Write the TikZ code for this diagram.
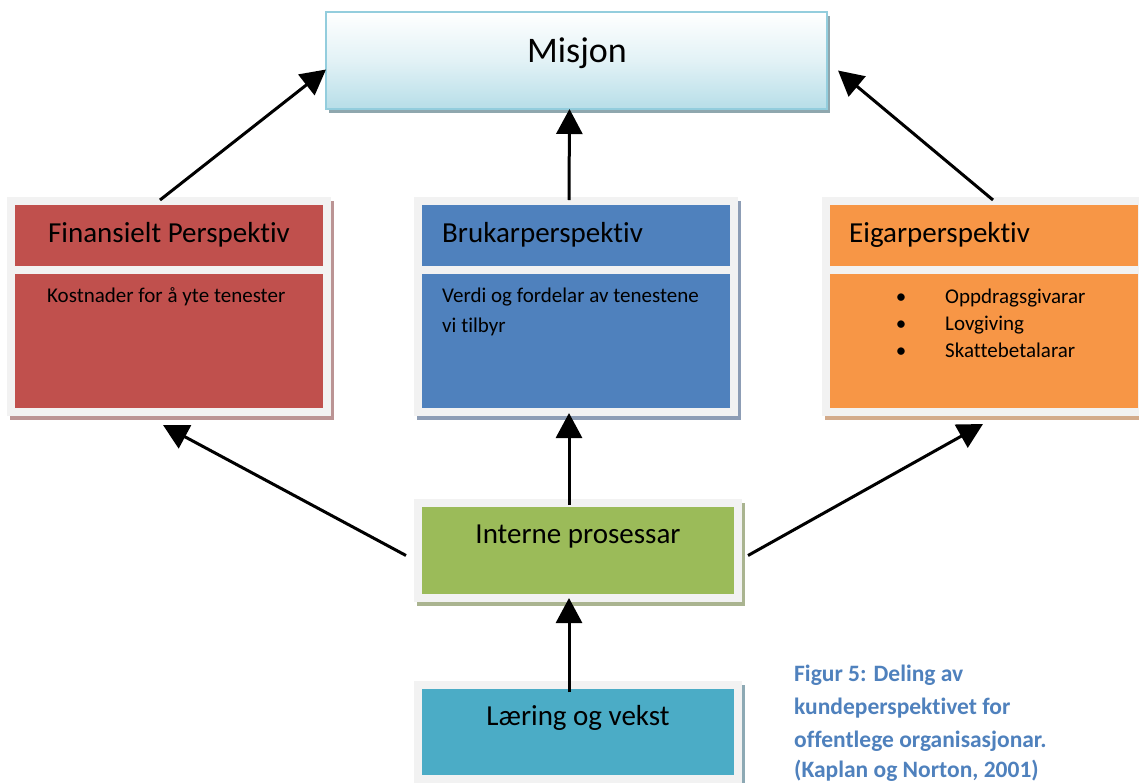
\documentclass[tikz,border=0pt]{standalone}
\usepackage{fontspec}
\setmainfont{Carlito}[Ligatures={NoCommon}]
\usetikzlibrary{arrows.meta,shadows}

\definecolor{framegray}{HTML}{F2F2F2}
\definecolor{redfill}{HTML}{C0504D}
\definecolor{bluefill}{HTML}{4F81BD}
\definecolor{orangefill}{HTML}{F79646}
\definecolor{greenfill}{HTML}{9BBB59}
\definecolor{tealfill}{HTML}{4BACC6}
\definecolor{misjonblue}{HTML}{B7DEE8}
\definecolor{misjonborder}{HTML}{93CDDD}
\definecolor{capblue}{HTML}{4F81BD}
\definecolor{misjonshadow}{HTML}{8FA7AE}
\definecolor{redshadow}{HTML}{BB9494}
\definecolor{blueshadow}{HTML}{8D9DB5}
\definecolor{orangeshadow}{HTML}{D3AB8B}
\definecolor{greenshadow}{HTML}{AAB490}
\definecolor{tealshadow}{HTML}{8DA9B4}

\begin{document}
\begin{tikzpicture}[x=1pt,y=-1pt,
  box/.style={draw=none, inner sep=0pt, outer sep=0pt, anchor=north west},
  frame/.style={box, fill=framegray, minimum width=#1},
  frame/.default=324pt,
  shade/.style={drop shadow={shadow xshift=3pt, shadow yshift=-4pt, fill=#1, opacity=1}},
  arr/.style={line width=3pt, -{Triangle[length=25pt,width=26pt]}},
  misjontext/.style={font=\fontsize{36}{43}\selectfont, inner sep=0pt, anchor=base},
  title/.style={font=\fontsize{29}{35}\selectfont, inner sep=0pt},
  body/.style={font=\fontsize{21}{26}\selectfont, inner sep=0pt, anchor=base west},
  bullet/.style={font=\fontsize{21}{26}\selectfont, inner sep=0pt, anchor=base},
  caption/.style={font=\fontsize{23.5}{28}\selectfont\bfseries, text=capblue, inner sep=0pt, anchor=base west},
]
\useasboundingbox (0,0) rectangle (1139,782);
\fill[white] (0,0) rectangle (1139,782);

% Mission box
\node[box, minimum width=501pt, minimum height=97pt, draw=misjonborder, line width=2pt,
      top color=white, bottom color=misjonblue, middle color=misjonblue!40!white,
      shade=misjonshadow] (misjon) at (326,12) {};
\node[misjontext] (misjonT) at (577,62) {Misjon};

% Financial perspective
\node[frame, minimum height=219pt, shade=redshadow] (redF) at (7,197) {};
\node[box, fill=redfill, minimum width=308pt, minimum height=61pt] (redH) at (15,205) {};
\node[box, fill=redfill, minimum width=308pt, minimum height=134pt] (redB) at (15,274) {};
\node[title, anchor=base] (redT) at (169,242) {Finansielt Perspektiv};
\node[body] (redL1) at (47,302) {Kostnader for å yte tenester};

% User perspective
\node[frame, minimum height=219pt, shade=blueshadow] (blueF) at (414,197) {};
\node[box, fill=bluefill, minimum width=308pt, minimum height=61pt] (blueH) at (422,205) {};
\node[box, fill=bluefill, minimum width=308pt, minimum height=134pt] (blueB) at (422,274) {};
\node[title, anchor=base west] (blueT) at (442,242) {Brukarperspektiv};
\node[body] (blueL1) at (442,302) {Verdi og fordelar av tenestene};
\node[body] (blueL2) at (442,332) {vi tilbyr};

% Owner perspective
\node[frame, minimum height=219pt, shade=orangeshadow] (orangeF) at (822,197) {};
\node[box, fill=orangefill, minimum width=308pt, minimum height=61pt] (orangeH) at (830,205) {};
\node[box, fill=orangefill, minimum width=308pt, minimum height=134pt] (orangeB) at (830,274) {};
\node[title, anchor=base west] (orangeT) at (849,242) {Eigarperspektiv};
\node[bullet] (ob1) at (901,303) {•};
\node[bullet] (ob2) at (901,330) {•};
\node[bullet] (ob3) at (901,357) {•};
\node[body] (oi1) at (945,303) {Oppdragsgivarar};
\node[body] (oi2) at (945,330) {Lovgiving};
\node[body] (oi3) at (945,357) {Skattebetalarar};

% Internal processes
\node[frame=328pt, minimum height=103pt, shade=greenshadow] (greenF) at (414,499) {};
\node[box, fill=greenfill, minimum width=312pt, minimum height=87pt] (greenB) at (422,507) {};
\node[title, anchor=base] (greenT) at (578,543) {Interne prosessar};

% Learning and growth
\node[frame=328pt, minimum height=110pt, shade=tealshadow] (tealF) at (414,681) {};
\node[box, fill=tealfill, minimum width=312pt, minimum height=86pt] (tealB) at (422,689) {};
\node[title, anchor=base] (tealT) at (578,725) {Læring og vekst};

% Caption
\node[caption] (cap1) at (794,681) {Figur 5: Deling av};
\node[caption] (cap2) at (794,714) {kundeperspektivet for};
\node[caption] (cap3) at (794,747) {offentlege organisasjonar.};
\node[caption] (cap4) at (794,777) {(Kaplan og Norton, 2001)};

% Connectors
\draw[arr] ([xshift=-9pt,yshift=-3pt]redF.north) -- ([yshift=-9pt]misjon.west);
\draw[arr] ([xshift=-7pt,yshift=-3pt]blueF.north) -- ([xshift=-7pt]misjon.south);
\draw[arr] ([xshift=9pt,yshift=-3pt]orangeF.north) -- ([xshift=11pt,yshift=-10pt]misjon.east);
\draw[arr] ([xshift=-8pt,yshift=-5pt]greenF.west) -- ([xshift=-6pt,yshift=-9pt]redF.south);
\draw[arr] ([xshift=-9pt,yshift=-6pt]greenF.north) -- ([xshift=-7pt,yshift=3pt]blueF.south);
\draw[arr] ([xshift=6pt,yshift=-5pt]greenF.east) -- ([xshift=-1pt,yshift=-8pt]orangeF.south);
\draw[arr] ([xshift=-9pt,yshift=-11pt]tealF.north) -- ([xshift=-9pt,yshift=4pt]greenF.south);
\end{tikzpicture}
\end{document}
